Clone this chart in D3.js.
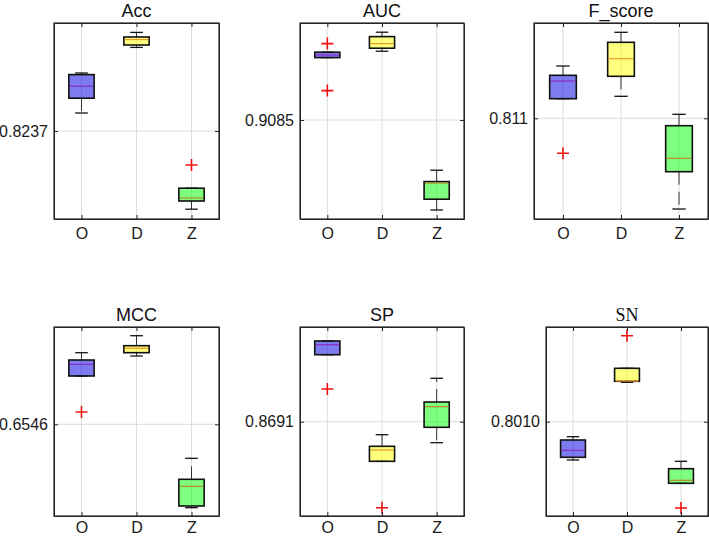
<!DOCTYPE html>
<html>
<head>
<meta charset="utf-8">
<script src="https://cdn.jsdelivr.net/npm/d3@7/dist/d3.min.js"></script>
<style>
  html, body { margin: 0; padding: 0; background: #fff; }
  svg { display: block; font-family: "Liberation Sans", Arial, sans-serif; }
  .grid line { stroke: #dcdcdc; stroke-width: 1; }
  .axis path, .axis line { stroke: #262626; }
  .axis text { fill: #1a1a1a; font-size: 16px; }
</style>
</head>
<body>
<script>
'use strict';

// groups and metrics
var groups = ['O', 'D', 'Z'];
var metrics = ['Acc', 'AUC', 'F_score', 'MCC', 'SP', 'SN'];

// five-number summaries per group: [min, q1, median, q3, max]
var accStats = [[0.82460, 0.82534, 0.82594, 0.82652, 0.82660],
                [0.82788, 0.82800, 0.82827, 0.82840, 0.82863],
                [0.81979, 0.82020, 0.82035, 0.82084, 0.82084]];
var aucStats = [[0.91162, 0.91162, 0.91175, 0.91189, 0.91189],
                [0.91194, 0.91209, 0.91232, 0.91267, 0.91289],
                [0.90400, 0.90454, 0.90535, 0.90542, 0.90599]];
var fscoreStats = [[0.81296, 0.81296, 0.81473, 0.81530, 0.81623],
                   [0.81320, 0.81520, 0.81696, 0.81860, 0.81960],
                   [0.80193, 0.80566, 0.80700, 0.81026, 0.81140]];
var mccStats = [[0.65943, 0.65943, 0.66060, 0.66103, 0.66176],
                [0.66143, 0.66176, 0.66220, 0.66246, 0.66346],
                [0.64626, 0.64643, 0.64840, 0.64910, 0.65120]];
var spStats = [[0.87580, 0.87580, 0.87680, 0.87717, 0.87717],
               [0.86514, 0.86514, 0.86627, 0.86664, 0.86780],
               [0.86700, 0.86854, 0.87060, 0.87107, 0.87344]];
var snStats = [[0.79717, 0.79744, 0.79814, 0.79917, 0.79950],
               [0.80494, 0.80504, 0.80507, 0.80634, 0.80634],
               [0.79484, 0.79484, 0.79514, 0.79630, 0.79704]];

// outliers per group
var accOutliers = [[], [], [0.82200]];
var aucOutliers = [[0.91232, 0.90997], [], []];
var fscoreOutliers = [[0.80750], [], []];
var mccOutliers = [[0.65583], [], []];
var spOutliers = [[0.87237], [0.86050], []];
var snOutliers = [[], [0.80960], [0.79237]];

// y axis limits and the single y tick of each panel
var yLimits = [[0.8193, 0.8291], [0.90355, 0.91335], [0.80093, 0.82053],
               [0.64543, 0.66433], [0.85967, 0.87857], [0.79157, 0.81047]];
var yTicks = [0.8237, 0.9085, 0.811, 0.6546, 0.8691, 0.8010];
var yTickLabels = ['0.8237', '0.9085', '0.811', '0.6546', '0.8691', '0.8010'];

var allStats = [accStats, aucStats, fscoreStats, mccStats, spStats, snStats];
var allOutliers = [accOutliers, aucOutliers, fscoreOutliers, mccOutliers, spOutliers, snOutliers];

// layout of the axes boxes
var frames = [
    {x0: 54, x1: 219, y0: 23, y1: 219, pad: 9},
    {x0: 300, x1: 464, y0: 23, y1: 219, pad: 9},
    {x0: 534, x1: 708, y0: 23, y1: 219, pad: 9},
    {x0: 54, x1: 219, y0: 327, y1: 516, pad: 6},
    {x0: 300, x1: 464, y0: 327, y1: 516, pad: 6},
    {x0: 546, x1: 708, y0: 327, y1: 516, pad: 6}
];

var fills = ['rgba(16,16,224,0.55)', 'rgba(255,255,0,0.5)', 'rgba(0,255,0,0.5)'];
var medianColors = ['#8a2cc8', '#eb9a2a', '#b8862a'];

var width = 709, height = 537;

var svg = d3.select('body').append('svg')
    .attr('width', width)
    .attr('height', height);

metrics.forEach(function (name, i) {
    var f = frames[i];
    var stats = allStats[i];
    var outliers = allOutliers[i];

    var x = d3.scalePoint()
        .domain(groups)
        .range([f.x0, f.x1])
        .padding(0.5);

    var y = d3.scaleLinear()
        .domain(yLimits[i])
        .range([f.y1, f.y0]);

    var boxW = x.step() * 0.46;
    var capW = boxW * 0.5;

    var g = svg.append('g');

    // grid
    var grid = g.append('g').attr('class', 'grid');
    grid.selectAll('line.gx')
        .data(groups)
        .enter().append('line')
        .attr('x1', function (d) { return x(d); })
        .attr('x2', function (d) { return x(d); })
        .attr('y1', f.y0)
        .attr('y2', f.y1);
    grid.append('line')
        .attr('x1', f.x0)
        .attr('x2', f.x1)
        .attr('y1', y(yTicks[i]))
        .attr('y2', y(yTicks[i]));

    // boxes
    var box = g.selectAll('g.box')
        .data(stats)
        .enter().append('g')
        .attr('class', 'box');

    // whiskers (dashed, drawn from the box outwards)
    box.append('line')
        .attr('x1', function (d, j) { return x(groups[j]); })
        .attr('x2', function (d, j) { return x(groups[j]); })
        .attr('y1', function (d) { return y(d[3]); })
        .attr('y2', function (d) { return y(d[4]); })
        .attr('stroke', '#333')
        .attr('stroke-dasharray', '13,7');
    box.append('line')
        .attr('x1', function (d, j) { return x(groups[j]); })
        .attr('x2', function (d, j) { return x(groups[j]); })
        .attr('y1', function (d) { return y(d[1]); })
        .attr('y2', function (d) { return y(d[0]); })
        .attr('stroke', '#333')
        .attr('stroke-dasharray', '13,7');

    // caps
    [0, 4].forEach(function (k) {
        box.append('line')
            .attr('x1', function (d, j) { return x(groups[j]) - capW / 2; })
            .attr('x2', function (d, j) { return x(groups[j]) + capW / 2; })
            .attr('y1', function (d) { return y(d[k]); })
            .attr('y2', function (d) { return y(d[k]); })
            .attr('stroke', '#111')
            .attr('stroke-width', 1.3);
    });

    box.append('rect')
        .attr('x', function (d, j) { return x(groups[j]) - boxW / 2; })
        .attr('width', boxW)
        .attr('y', function (d) { return y(d[3]); })
        .attr('height', function (d) { return Math.max(0.5, y(d[1]) - y(d[3])); })
        .attr('fill', function (d, j) { return fills[j]; })
        .attr('stroke', '#111')
        .attr('stroke-width', 1.6);

    box.append('line')
        .attr('x1', function (d, j) { return x(groups[j]) - boxW / 2 + 1; })
        .attr('x2', function (d, j) { return x(groups[j]) + boxW / 2 - 1; })
        .attr('y1', function (d) { return y(d[2]); })
        .attr('y2', function (d) { return y(d[2]); })
        .attr('stroke', function (d, j) { return medianColors[j]; })
        .attr('stroke-width', 1.2);

    // outliers as red plus signs
    var pts = [];
    outliers.forEach(function (arr, j) {
        arr.forEach(function (v) { pts.push({group: groups[j], value: v}); });
    });
    g.selectAll('path.outlier')
        .data(pts)
        .enter().append('path')
        .attr('class', 'outlier')
        .attr('d', 'M-6,0H6M0,-6V6')
        .attr('transform', function (d) {
            return 'translate(' + x(d.group) + ',' + y(d.value) + ')';
        })
        .attr('fill', 'none')
        .attr('stroke', '#ee1111')
        .attr('stroke-width', 1.6);

    // axes with inward ticks
    g.append('g')
        .attr('class', 'axis')
        .attr('transform', 'translate(0,' + f.y1 + ')')
        .call(d3.axisBottom(x).tickSizeInner(-4).tickSizeOuter(0).tickPadding(f.pad));
    g.append('g')
        .attr('class', 'axis')
        .attr('transform', 'translate(0,' + f.y0 + ')')
        .call(d3.axisTop(x).tickSizeInner(-4).tickSizeOuter(0).tickFormat(''));
    g.append('g')
        .attr('class', 'axis')
        .attr('transform', 'translate(' + f.x0 + ',0)')
        .call(d3.axisLeft(y).tickValues([yTicks[i]]).tickSizeInner(-4).tickSizeOuter(0)
            .tickPadding(6)
            .tickFormat(function () { return yTickLabels[i]; }));
    g.append('g')
        .attr('class', 'axis')
        .attr('transform', 'translate(' + f.x1 + ',0)')
        .call(d3.axisRight(y).tickValues([yTicks[i]]).tickSizeInner(-4).tickSizeOuter(0)
            .tickFormat(''));

    g.selectAll('.axis text').attr('font-family', null);

    g.append('rect')
        .attr('x', f.x0)
        .attr('y', f.y0)
        .attr('width', f.x1 - f.x0)
        .attr('height', f.y1 - f.y0)
        .attr('fill', 'none')
        .attr('stroke', '#262626')
        .attr('stroke-width', 1.2);

    // title
    g.append('text')
        .attr('x', (f.x0 + f.x1) / 2)
        .attr('y', f.y0 - 6.5)
        .attr('text-anchor', 'middle')
        .attr('font-size', '18px')
        .attr('font-family', name === 'SN' ? '"Liberation Serif", "Times New Roman", serif' : null)
        .attr('fill', '#111')
        .text(name);
});
</script>
</body>
</html>
